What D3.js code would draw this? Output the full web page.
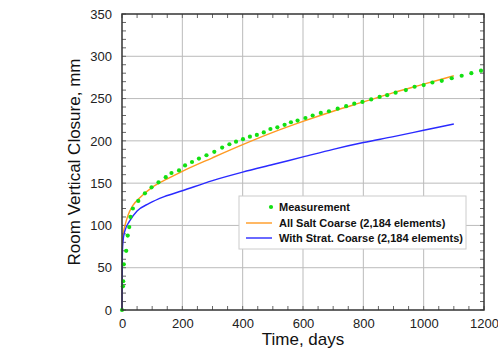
<!DOCTYPE html>
<html>
<head>
<meta charset="utf-8">
<script src="https://cdn.jsdelivr.net/npm/d3@7"></script>
<style>
  body { margin: 0; background: #fff; }
  text { font-family: "Liberation Sans", Arial, sans-serif; }
</style>
</head>
<body>
<svg width="498" height="350"></svg>
<script>
// measured closure (days, mm)
var measTime = [0, 3, 4, 6, 14, 19, 24, 28, 36, 54, 76, 98, 121, 145, 164, 189, 209, 232, 255, 280,
  306, 332, 356, 378, 401, 424, 447, 470, 492, 515, 539, 560, 582, 608, 632, 659, 686, 715,
  743, 770, 797, 826, 854, 879, 907, 941, 970, 1000, 1029, 1060, 1093, 1126, 1158, 1190];
var measValue = [0, 28, 34, 54, 70, 88, 98, 110, 120, 129, 138, 145, 151, 157, 162, 165, 171, 175, 179, 183,
  187, 192, 196, 199, 202, 205, 207, 210, 214, 216, 219, 222, 224, 227, 230, 233, 235, 238,
  241, 244, 246, 249, 252, 254, 257, 260, 264, 266, 269, 271, 274, 277, 280, 283];

// model curves
var saltTime = [0, 1, 2, 5, 10, 20, 35, 60, 100, 150, 200, 300, 400, 500, 600, 700, 800, 900, 1000, 1100];
var saltValue = [0, 70, 82, 92, 100, 112, 123, 133, 145, 155, 164, 180, 195.5, 210, 223, 235, 246, 257, 267, 277];
var stratTime = [0, 1, 2, 5, 10, 25, 50, 90, 140, 200, 300, 400, 500, 600, 700, 800, 900, 1000, 1100];
var stratValue = [0, 60, 75, 86, 94, 105, 117, 126, 134, 141, 153, 163, 172, 181, 190, 198, 205, 212.5, 220];

var xTicks = [0, 200, 400, 600, 800, 1000, 1200];
var yTicks = [0, 50, 100, 150, 200, 250, 300, 350];
var seriesNames = ["Measurement", "All Salt Coarse (2,184 elements)", "With Strat. Coarse (2,184 elements)"];

var svg = d3.select("svg"),
    margin = {top: 14, right: 14, bottom: 40, left: 122},
    width = 498 - margin.left - margin.right,
    height = 350 - margin.top - margin.bottom;

var x = d3.scaleLinear().domain([0, 1200]).range([0, width]),
    y = d3.scaleLinear().domain([0, 350]).range([height, 0]);

var g = svg.append("g")
    .attr("transform", "translate(" + margin.left + "," + margin.top + ")");

// grid
g.append("g").selectAll("line").data(xTicks.slice(1, -1)).enter().append("line")
    .attr("x1", x).attr("x2", x).attr("y1", 0).attr("y2", height)
    .attr("stroke", "#bbb").attr("stroke-width", 1);
g.append("g").selectAll("line").data(yTicks.slice(1, -1)).enter().append("line")
    .attr("y1", y).attr("y2", y).attr("x1", 0).attr("x2", width)
    .attr("stroke", "#bbb").attr("stroke-width", 1);

// minor ticks, inward on all sides
var xMinor = d3.range(0, 1201, 50), yMinor = d3.range(0, 351, 10);
var tk = g.append("g").attr("stroke", "#666").attr("stroke-width", 1);
tk.selectAll(".xb").data(xMinor).enter().append("line")
    .attr("x1", x).attr("x2", x).attr("y1", height).attr("y2", height - 4);
tk.selectAll(".xt").data(xMinor).enter().append("line")
    .attr("x1", x).attr("x2", x).attr("y1", 0).attr("y2", 4);
tk.selectAll(".yl").data(yMinor).enter().append("line")
    .attr("y1", y).attr("y2", y).attr("x1", 0).attr("x2", 4);
tk.selectAll(".yr").data(yMinor).enter().append("line")
    .attr("y1", y).attr("y2", y).attr("x1", width).attr("x2", width - 4);

// axes labels
g.append("g")
    .attr("transform", "translate(0," + height + ")")
    .call(d3.axisBottom(x).tickValues(xTicks).tickFormat(d3.format("d")).tickSize(0).tickPadding(9))
    .call(function(a) { a.select(".domain").remove(); })
    .selectAll("text").attr("font-size", 13).attr("fill", "#222")
    .style("font-family", "'Liberation Sans', Arial, sans-serif");

g.append("g")
    .call(d3.axisLeft(y).tickValues(yTicks).tickSize(0).tickPadding(10))
    .call(function(a) { a.select(".domain").remove(); })
    .selectAll("text").attr("font-size", 13).attr("fill", "#222")
    .style("font-family", "'Liberation Sans', Arial, sans-serif");

// curves
var line = d3.line().x(function(d) { return x(d[0]); }).y(function(d) { return y(d[1]); });
var salt = saltTime.map(function(t, i) { return [t, saltValue[i]]; });
var strat = stratTime.map(function(t, i) { return [t, stratValue[i]]; });

g.append("path").datum(salt)
    .attr("d", line.curve(d3.curveMonotoneX))
    .attr("fill", "none").attr("stroke", "#ff9a22").attr("stroke-width", 1.4);
g.append("path").datum(strat)
    .attr("d", line.curve(d3.curveMonotoneX))
    .attr("fill", "none").attr("stroke", "#2a2aff").attr("stroke-width", 1.4);

g.selectAll(".meas").data(measTime).enter().append("circle")
    .attr("cx", function(d) { return x(d); })
    .attr("cy", function(d, i) { return y(measValue[i]); })
    .attr("r", 2.1)
    .attr("fill", "#12e012");

// frame
g.append("rect").attr("width", width).attr("height", height)
    .attr("fill", "none").attr("stroke", "#333").attr("stroke-width", 1.5);

// axis titles
svg.append("text")
    .attr("x", margin.left + width / 2).attr("y", 345)
    .attr("text-anchor", "middle").attr("font-size", 17).attr("fill", "#111")
    .text("Time, days");
svg.append("text")
    .attr("transform", "translate(80," + (margin.top + height / 2) + ") rotate(-90)")
    .attr("text-anchor", "middle").attr("font-size", 17).attr("fill", "#111")
    .text("Room Vertical Closure, mm");

// legend
var lg = svg.append("g").attr("transform", "translate(239,196)");
lg.append("rect").attr("width", 227).attr("height", 53)
    .attr("fill", "#fff").attr("stroke", "#ccc").attr("stroke-width", 1);
lg.append("circle").attr("cx", 32).attr("cy", 11).attr("r", 2.1).attr("fill", "#12e012");
lg.append("line").attr("x1", 7).attr("x2", 33).attr("y1", 27).attr("y2", 27)
    .attr("stroke", "#ff9a22").attr("stroke-width", 1.4);
lg.append("line").attr("x1", 7).attr("x2", 33).attr("y1", 42).attr("y2", 42)
    .attr("stroke", "#2a2aff").attr("stroke-width", 1.4);
lg.selectAll(".lt").data(seriesNames).enter().append("text")
    .attr("x", 40)
    .attr("y", function(d, i) { return 15 + i * 15.5; })
    .attr("font-size", 11).attr("font-weight", "bold").attr("fill", "#111")
    .text(function(d) { return d; });
</script>
</body>
</html>
